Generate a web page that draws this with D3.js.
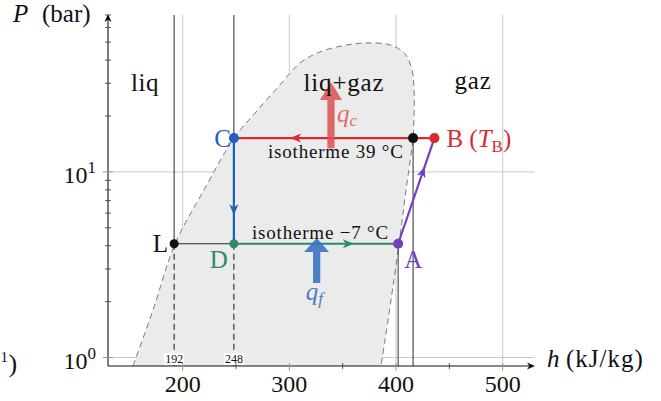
<!DOCTYPE html>
<html><head><meta charset="utf-8">
<script src="https://cdn.jsdelivr.net/npm/d3@7"></script>
<style>
body{margin:0;background:#fff}
svg{display:block}
svg text{font-family:"Liberation Serif","DejaVu Serif",serif;fill:#111}
</style>
</head><body>
<svg id="c" width="661" height="401" font-family="Liberation Serif, DejaVu Serif, serif"></svg>
<script>
// ---------- data ----------
const hTicks = [200, 300, 400, 500];
const hMinor = [250, 350, 450];
const pMajor = [1, 10];
const pMajorExp = ["0", "1"];
const pMinor = [2, 3, 4, 5, 6, 7, 8, 9, 20, 30, 40, 50, 60, 70];
// saturation dome (h kJ/kg, P bar)
const domeH = [153.4, 172.2, 192.8, 220, 248.1, 268.7, 291.2, 310, 328.7, 354.1, 372.8, 394.4, 408.4, 415, 416.9, 416.9, 415.9, 409.4, 402.8, 395.3, 389.7, 385.9];
const domeP = [0.9, 1.8, 4.09, 7.99, 15.2, 21, 29.4, 38.6, 44.3, 48.3, 49.5, 48.3, 43.2, 35.4, 27.6, 20.3, 15.2, 8.0, 4.09, 2.04, 1.24, 0.9];
// cycle states
const stateNames = ["L", "D", "C", "V", "B", "A"];
const stateH = [192, 248, 248, 416, 436, 402];
const stateP = [4.1, 4.1, 15.2, 15.2, 15.2, 4.1];
const hMarks = ["192", "248"];
// heat arrows [h, Pbottom, Ptop]
const qcArrow = [339, 13.4, 30.5];
const qfArrow = [325.6, 2.52, 4.4];

// ---------- setup ----------
const FONT = "'Liberation Serif', 'DejaVu Serif', serif";
const svg = d3.select("#c");
const x = d3.scaleLinear().domain([130, 530]).range([108, 534.7]);
const y = d3.scaleLog().domain([0.9, 70]).range([366, 15]);
const S = {};
stateNames.forEach((n, i) => S[n] = {h: stateH[i], P: stateP[i], x: x(stateH[i]), y: y(stateP[i])});

const RED = "#db2a2e", BLUE = "#1f5fbf", GREEN = "#2b8a6b", PURPLE = "#7340c0";
const GRID = "#c8c8c8";

function line(g, x1, y1, x2, y2, color, w, dash) {
  const l = g.append("line").attr("x1", x1).attr("y1", y1).attr("x2", x2).attr("y2", y2)
    .attr("stroke", color).attr("stroke-width", w);
  if (dash) l.attr("stroke-dasharray", dash);
  return l;
}
function head(g, px, py, angDeg, color, L, W) {
  const n = L * 0.72;
  g.append("path").attr("d", `M0,0 L${-L},${-W} L${-n},0 L${-L},${W} Z`)
    .attr("fill", color)
    .attr("transform", `translate(${px},${py}) rotate(${angDeg})`);
}
function txt(g, px, py, size) {
  return g.append("text").attr("x", px).attr("y", py).attr("font-size", size)
    .style("font-family", FONT);
}

// ---------- grid ----------
const grid = svg.append("g");
hTicks.forEach(h => line(grid, x(h), y(70), x(h), y(0.9), GRID, 1));
pMajor.forEach(p => line(grid, x(130), y(p), x(530), y(p), GRID, 1));

// ---------- dome ----------
const domePts = domeH.map((h, i) => [x(h), y(domeP[i])]);
const dl = d3.line().curve(d3.curveCatmullRom.alpha(0.5));
svg.append("path").attr("d", dl(domePts) + "Z").attr("fill", "#ebebeb").attr("stroke", "none");
svg.append("path").attr("d", dl(domePts)).attr("fill", "none")
  .attr("stroke", "#7a7a7a").attr("stroke-width", 1).attr("stroke-dasharray", "6,4");

// ---------- guide lines ----------
const gl = svg.append("g");
line(gl, S.L.x, y(70), S.L.x, S.L.y, "#111", 0.9);
line(gl, S.L.x, S.L.y, S.L.x, y(0.9), "#111", 1, "6,4");
line(gl, S.C.x, y(70), S.C.x, S.C.y, "#111", 0.9);
line(gl, S.D.x, S.D.y, S.D.x, y(0.9), "#111", 1, "6,4");
line(gl, S.V.x, S.V.y, S.V.x, y(0.9), "#111", 0.9);
line(gl, S.A.x, S.A.y, S.A.x, y(0.9), "#333", 1);
line(gl, S.L.x, S.L.y, S.D.x, S.D.y, "#111", 0.9);

// small h labels with white background
hMarks.forEach(t => {
  const tx = x(+t);
  const el = txt(svg, tx, 363, 12).attr("text-anchor", "middle").text(t);
  const bb = el.node().getBBox();
  svg.insert("rect", () => el.node()).attr("x", bb.x - 1).attr("y", bb.y + 1)
    .attr("width", bb.width + 2).attr("height", bb.height - 2).attr("fill", "#fff");
});

// ---------- axes ----------
const ax = svg.append("g");
line(ax, x(130), y(0.9), 533, y(0.9), "#111", 1.1);
line(ax, x(130), y(0.9), x(130), 16, "#111", 1.1);
head(ax, 535, y(0.9), 0, "#111", 8, 3.5);
head(ax, x(130), 14, -90, "#111", 8, 3.5);
hTicks.forEach(h => line(ax, x(h), y(0.9) - 3, x(h), y(0.9) + 5, "#999", 1));
hMinor.forEach(h => line(ax, x(h), y(0.9) - 3, x(h), y(0.9) + 3, "#333", 0.8));
pMajor.forEach(p => line(ax, x(130) - 5, y(p), x(130) + 5, y(p), "#999", 1));
pMinor.forEach(p => line(ax, x(130) - 3, y(p), x(130) + 3, y(p), "#333", 0.8));

hTicks.forEach(h => txt(ax, x(h), 392, 24).attr("text-anchor", "middle").text(h));
pMajor.forEach((p, i) => {
  const t = txt(ax, 96, y(p) + 11, 24).attr("text-anchor", "end");
  t.append("tspan").text("10");
  t.append("tspan").attr("font-size", 17).attr("dy", -10).text(pMajorExp[i]);
});

// axis titles
const yt = txt(svg, 13, 22, 25);
yt.append("tspan").attr("font-style", "italic").text("P");
yt.append("tspan").attr("x", 42).text("(bar)");
const xt = txt(svg, 547, 367, 25);
xt.append("tspan").attr("font-style", "italic").text("h");
xt.append("tspan").attr("x", 566).attr("letter-spacing", 1).text("(kJ/kg)");
// fragment at left edge
txt(svg, 0.5, 362, 15).text("1");
txt(svg, 8.5, 372, 26).text(")");

// ---------- cycle lines ----------
const cy = svg.append("g");
function proc(a, b, color, frac) {
  line(cy, a.x, a.y, b.x, b.y, color, 2.2);
  const px = a.x + (b.x - a.x) * frac, py = a.y + (b.y - a.y) * frac;
  const ang = Math.atan2(b.y - a.y, b.x - a.x) * 180 / Math.PI;
  head(cy, px, py, ang, color, 11, 4.5);
}
proc(S.B, S.C, RED, 0.72);
proc(S.C, S.D, BLUE, 0.73);
proc(S.D, S.A, GREEN, 0.73);
proc(S.A, S.B, PURPLE, 0.73);

// ---------- heat arrows ----------
function heat(arr, color, headLen, halfHead, halfShaft) {
  const cx = x(arr[0]), yb = y(arr[1]), ytp = y(arr[2]), base = ytp + headLen;
  const pts = [[cx, ytp], [cx + halfHead, base], [cx + halfShaft, base], [cx + halfShaft, yb],
    [cx - halfShaft, yb], [cx - halfShaft, base], [cx - halfHead, base]];
  svg.append("path").attr("d", "M" + pts.map(p => p.join(",")).join("L") + "Z")
    .attr("fill", color);
  return {cx, yb, yt: ytp};
}
const qc = heat(qcArrow, "rgba(222,80,80,0.85)", 18, 11, 3.6);
const qf = heat(qfArrow, "rgba(60,115,195,0.9)", 14, 12.5, 3.6);

// ---------- points ----------
const pts = [["L", "#111", 4.5], ["D", GREEN, 4.5], ["C", BLUE, 5], ["V", "#111", 5], ["B", RED, 5], ["A", PURPLE, 5]];
pts.forEach(([n, c, r]) => svg.append("circle").attr("cx", S[n].x).attr("cy", S[n].y).attr("r", r).attr("fill", c));

// ---------- labels ----------
function lab(t, px, py, anchor, color, size) {
  return txt(svg, px, py, size).attr("text-anchor", anchor).style("fill", color).text(t);
}
lab("liq", 145, 91, "middle", "#111", 25).attr("letter-spacing", 0.5);
lab("liq+gaz", 344, 91, "middle", "#111", 25).attr("letter-spacing", 0.8);
lab("gaz", 473, 89, "middle", "#111", 25).attr("letter-spacing", 0.8);
lab("C", S.C.x - 3, S.C.y + 9, "end", BLUE, 25);
lab("L", S.L.x - 6, S.L.y + 8, "end", "#111", 25);
lab("D", S.D.x - 15, S.D.y + 24, "middle", GREEN, 25);
lab("A", S.A.x + 6, S.A.y + 24, "start", PURPLE, 25);
const bl = txt(svg, S.B.x + 12, S.B.y + 9, 25).style("fill", RED);
bl.append("tspan").text("B (");
bl.append("tspan").attr("font-style", "italic").text("T");
bl.append("tspan").attr("font-size", 17).attr("dy", 5).text("B");
bl.append("tspan").attr("dy", -5).text(")");

lab("isotherme 39 °C", 268, S.C.y + 20, "start", "#111", 19).attr("letter-spacing", 0.8);
lab("isotherme −7 °C", 252, S.A.y - 5, "start", "#111", 19).attr("letter-spacing", 0.8);

const qcl = txt(svg, qc.cx + 6, 122, 25).style("fill", "#e06a6a");
qcl.append("tspan").attr("font-style", "italic").text("q");
qcl.append("tspan").attr("font-style", "italic").attr("font-size", 17).attr("dy", 4).text("c");
const qfl = txt(svg, qf.cx - 11, 300, 25).style("fill", "#4a7cc8");
qfl.append("tspan").attr("font-style", "italic").text("q");
qfl.append("tspan").attr("font-style", "italic").attr("font-size", 17).attr("dy", 4).text("f");
</script>
</body></html>
